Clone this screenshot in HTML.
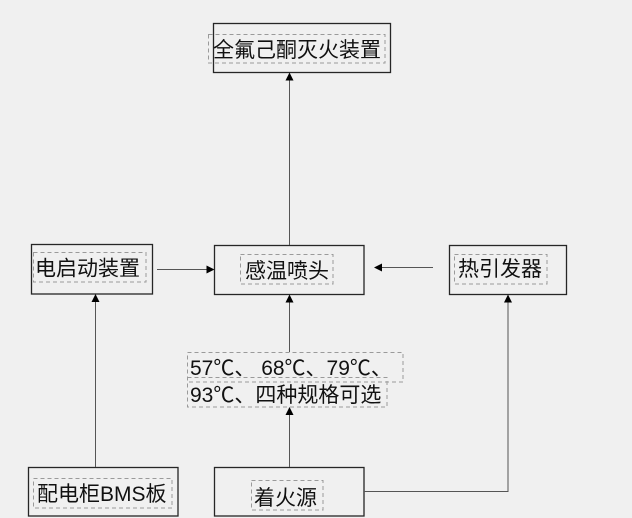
<!DOCTYPE html>
<html><head><meta charset="utf-8">
<style>
html,body{margin:0;padding:0;background:#f0f0f0;}
svg{display:block;}
text{font-family:"Liberation Sans","Noto Sans CJK SC",sans-serif;font-size:21px;fill:#111;}
</style></head>
<body>
<svg width="632" height="518" viewBox="0 0 632 518" xmlns="http://www.w3.org/2000/svg">
<rect x="0" y="0" width="632" height="518" fill="#f0f0f0"/>
<!-- boxes -->
<g fill="none" stroke="#262626" stroke-width="1.3">
<rect x="213.5" y="23.5" width="177" height="49"/>
<rect x="31.5" y="244.5" width="121" height="49.5"/>
<rect x="214.5" y="245.5" width="149.5" height="49"/>
<rect x="449.5" y="245.5" width="117" height="49"/>
<rect x="28.5" y="467.5" width="149.5" height="48.5"/>
<rect x="214.5" y="467.5" width="149.5" height="48.5"/>
</g>
<!-- dashed text frames -->
<g fill="none" stroke="#9a9a9a" stroke-width="1" stroke-dasharray="4 3">
<rect x="208.5" y="34.5" width="176.5" height="28.5"/>
<rect x="33.5" y="252.5" width="112.5" height="29.5"/>
<rect x="240.5" y="254.5" width="92.5" height="29.5"/>
<rect x="454.5" y="254.5" width="92.5" height="29.5"/>
<rect x="187.5" y="352.5" width="215.5" height="29.5"/>
<rect x="187.5" y="377.5" width="199.5" height="29.5"/>
<rect x="33.5" y="478.5" width="138.5" height="29.5"/>
<rect x="251.5" y="480.5" width="71.5" height="29.5"/>
</g>
<!-- connectors -->
<g fill="none" stroke="#555" stroke-width="1">
<line x1="289.5" y1="245" x2="289.5" y2="80"/>
<line x1="157" y1="269.5" x2="207" y2="269.5"/>
<line x1="433" y1="267.5" x2="382" y2="267.5"/>
<line x1="289.5" y1="352" x2="289.5" y2="302"/>
<polyline points="364,491.5 508,491.5 508,302"/>
<line x1="95.5" y1="467" x2="95.5" y2="302"/>
<line x1="289.5" y1="467" x2="289.5" y2="415"/>
</g>
<!-- arrowheads -->
<g fill="#000">
<polygon points="289.5,72.5 285.5,80.5 293.5,80.5"/>
<polygon points="214.5,269.5 206.5,265.5 206.5,273.5"/>
<polygon points="374,267.5 382,263.5 382,271.5"/>
<polygon points="289.5,294.5 285.5,302.5 293.5,302.5"/>
<polygon points="508,294.5 504,302.5 512,302.5"/>
<polygon points="95.5,294 91.5,302 99.5,302"/>
<polygon points="289.5,407 285.5,415 293.5,415"/>
</g>
<!-- labels -->
<text x="213" y="57">全氟己酮灭火装置</text>
<text x="35" y="275.5">电启动装置</text>
<text x="245" y="278">感温喷头</text>
<text x="458" y="276">热引发器</text>
<text x="190" y="375">57℃、 68℃、79℃、</text>
<text x="190" y="402">93℃、四种规格可选</text>
<text x="37" y="501">配电柜BMS板</text>
<text x="254" y="505">着火源</text>
</svg>
</body></html>
